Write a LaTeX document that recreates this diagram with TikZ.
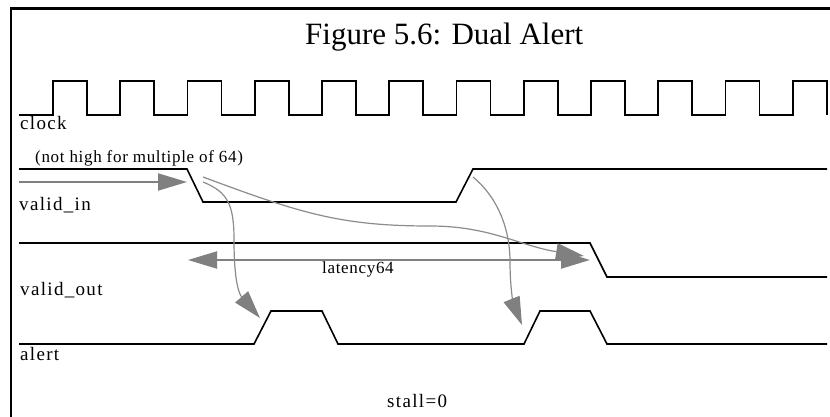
\documentclass[tikz,border=0pt]{standalone}
\usepackage{fontspec}
\setmainfont{Liberation Serif}
\newfontfamily\lblfont[LetterSpace=7]{Liberation Serif}
\newfontfamily\notefont[LetterSpace=4]{Liberation Serif}
\usetikzlibrary{arrows.meta}
\definecolor{arrgray}{HTML}{808080}
\definecolor{curvegray}{HTML}{8C8C8C}
\begin{document}
\begin{tikzpicture}[x=1pt, y=-1pt,
  sig/.style={line width=1.6pt, black, line join=miter},
  lbl/.style={anchor=base west, inner sep=0pt, font=\lblfont\fontsize{19}{22}\selectfont},
  straightarr/.style={line width=2pt, arrgray, -{Triangle[length=29pt, width=17pt]}},
  curvearr/.style={line width=1.2pt, curvegray, -{Triangle[length=28pt, width=17pt, color=arrgray, fill=arrgray]}}]
\useasboundingbox (0,0) rectangle (830,417);
\fill[white] (0,0) rectangle (830,417);
\draw[line width=2.5pt] (11,417) -- (11,8.5) -- (830,8.5);
\node[anchor=base west, inner sep=0pt, font=\fontsize{31}{36}\selectfont] (title) at (305,45) {Figure 5.6: Dual Alert};
\draw[sig] (19,115) \foreach \i in {0,...,11}{ -- ({53+67.25*\i},115) -- ({53+67.25*\i},81) -- ({87+67.25*\i},81) -- ({87+67.25*\i},115)};
\node[lbl] (clock) at (20,130) {clock};
\node[anchor=base west, inner sep=0pt, font=\notefont\fontsize{17}{20}\selectfont] (note) at (35,162) {(not high for multiple of 64)};
\draw[sig] (19,169) -- (187,169) -- (203,202) -- (456,202) -- (473,169) -- (827,169);
\node[lbl] (validin) at (19,210) {valid\_in};
\draw[sig] (19,243) -- (590,243) -- (607,277) -- (827,277);
\node[lbl] (validout) at (20,295) {valid\_out};
\draw[sig] (19,344) -- (254,344) -- (271,311) -- (322,311) -- (338,344) -- (524,344) -- (540,311) -- (590,311) -- (607,344) -- (827,344);
\node[lbl] (alert) at (20,360) {alert};
\coordinate (inA) at (19,182);
\coordinate (inB) at (187,182);
\draw[straightarr] (inA) -- (inB);
\coordinate (latL) at (188,260);
\coordinate (latR) at (590,260);
\draw[straightarr, {Triangle[length=29pt, width=17pt]}-{Triangle[length=29pt, width=17pt]}] (latL) -- (latR);
\node[anchor=base west, inner sep=0pt, font=\notefont\fontsize{17}{20}\selectfont] (latency) at (322,273) {latency64};
\coordinate (fallA) at (203,177);
\coordinate (outTip) at (584,256);
\draw[curvearr] (fallA) .. controls (300,213) and (340,226) .. (430,226) .. controls (490,226) and (520,246) .. (outTip);
\coordinate (fallB) at (203,182);
\coordinate (alertTipA) at (260,318);
\draw[curvearr] (fallB) .. controls (228,192) and (234,205) .. (234,240) .. controls (234,285) and (240,295) .. (alertTipA);
\coordinate (riseA) at (473,177);
\coordinate (alertTipB) at (522,325);
\draw[curvearr] (riseA) .. controls (495,195) and (510,225) .. (510,262) .. controls (510,290) and (514,305) .. (alertTipB);
\node[lbl] (stall) at (387,407) {stall=0};
\end{tikzpicture}
\end{document}
